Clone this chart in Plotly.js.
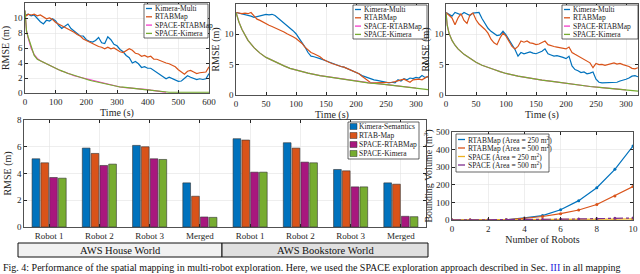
<!DOCTYPE html>
<html><head><meta charset="utf-8">
<script src="https://cdn.plot.ly/plotly-3.0.1.min.js"></script>
<style>html,body{margin:0;padding:0;background:#fff}#chart{width:640px;height:274px}</style>
</head><body><div id="chart"></div>
<script>
// ---------- DATA ----------
// Top-left (AWS House World, 0-600 s)
const t1 = [0,5,10,20,30,40,50,60,70,80,90,100,110,120,130,140,150,160,170,180,190,200,210,220,230,240,250,260,270,280,290,300,310,320,330,340,350,360,370,380,390,400,410,420,430,440,450,460,470,480,490,500,510,520,530,540,550,560,570,580,590,600];
const kimera1 = [10.5,10.4,10.5,10.3,10.4,9.9,9.5,9.2,9.7,9.6,9.9,9.6,9.0,8.6,8.9,9.2,8.6,8.3,8.0,7.6,7.6,7.1,6.9,6.8,7.0,7.4,6.7,6.6,7.5,7.1,6.5,6.3,5.8,5.5,5.0,4.7,4.0,4.2,3.9,3.4,3.5,3.3,3.3,3.0,2.8,2.4,2.2,1.9,2.1,1.9,1.7,1.55,1.6,1.9,2.3,2.1,2.0,1.8,1.9,1.8,1.9,2.6];
const rtab1 = [10.5,10.3,10.5,10.4,10.5,10.3,10.4,10.2,9.9,10.0,9.8,9.4,9.2,9.0,8.8,8.6,8.4,8.1,7.8,7.6,7.2,7.0,6.7,6.6,6.3,6.2,6.1,5.9,6.1,5.9,6.0,5.7,5.5,5.4,5.7,5.9,5.7,5.3,5.2,4.9,5.0,4.8,4.9,4.5,4.5,4.3,4.2,4.0,3.9,3.7,3.5,3.1,2.8,2.5,2.9,3.0,2.8,2.6,2.7,2.7,2.8,3.5];
const spaceRtab1 = [11.0,8.3,7.4,6.0,5.1,4.6,4.3,4.1,3.8,3.6,3.4,3.3,3.1,2.9,2.8,2.6,2.5,2.3,2.2,2.1,1.95,1.8,1.7,1.6,1.5,1.4,1.35,1.3,1.2,1.1,1.0,0.85,0.8,0.75,0.72,0.7,0.68,0.6,0.55,0.5,0.47,0.45,0.38,0.3,0.25,0.2,0.14,0.1,null,null,null,null,null,null,null,null,null,null,null,null,null,null];
const spaceKim1 = [11.0,8.2,7.5,6.1,5.0,4.5,4.3,4.0,3.8,3.6,3.4,3.3,3.1,2.95,2.75,2.6,2.5,2.35,2.2,2.05,1.9,1.8,1.7,1.6,1.5,1.45,1.35,1.25,1.2,1.1,1.0,0.88,0.8,0.78,0.72,0.7,0.66,0.6,0.56,0.5,0.46,0.42,0.36,0.3,0.24,0.18,0.13,0.1,0.1,0.1,0.1,0.1,0.1,0.1,0.1,0.1,0.1,0.1,0.1,0.1,0.1,0.1];

// Top-middle (AWS Bookstore, 0-320 s)
const t2 = [0,5,10,15,20,25,30,35,40,45,50,55,60,65,70,75,80,85,90,95,100,105,110,115,120,125,130,135,140,145,150,155,160,165,170,175,180,185,190,195,200,205,210,215,220,225,230,235,240,245,250,255,260,265,270,275,280,285,290,295,300,305,310,315,320];
const kimera2 = [13.6,13.5,13.4,13.3,13.2,13.0,12.8,12.9,13.1,13.2,13.3,13.2,13.3,13.1,12.7,12.3,11.9,11.5,11.0,10.6,10.1,9.4,8.7,7.9,7.0,6.4,6.3,6.2,6.0,5.8,5.6,5.4,5.2,5.0,4.9,4.7,4.6,4.4,4.2,4.0,3.8,3.5,3.2,3.0,2.8,2.6,2.5,2.4,2.3,2.1,2.0,2.0,2.1,2.0,2.5,2.3,2.7,2.5,2.8,2.7,2.9,2.8,3.2,2.9,3.0];
const rtab2 = [13.6,13.5,13.4,13.5,13.4,13.6,13.0,12.5,12.3,12.0,11.7,11.5,11.3,11.1,10.9,10.6,10.4,10.1,9.9,9.6,9.3,8.9,8.5,7.9,7.4,7.0,6.8,6.6,6.3,5.9,5.6,5.4,5.2,5.0,4.9,4.7,4.6,4.4,4.2,4.0,3.8,3.5,3.1,2.7,2.3,2.0,2.0,2.0,2.0,2.0,2.0,2.0,2.1,2.2,2.4,2.5,2.6,2.3,2.1,2.5,2.6,2.6,2.5,2.8,3.1];
const ts2 = [0,2,5,10,15,20,30,40,50,60,70,80,90,100,120,140,160,180,200,220,240,260,280,300,320];
const spaceRtab2 = [13.6,12.8,12.0,10.8,9.8,9.0,7.8,6.9,6.2,5.7,5.3,4.8,4.4,4.1,3.6,3.2,2.9,2.6,2.3,2.05,1.85,1.6,1.4,1.15,null];
const spaceKim2 = [13.6,12.8,12.0,10.8,9.8,9.0,7.8,6.9,6.2,5.7,5.3,4.8,4.4,4.1,3.6,3.2,2.9,2.6,2.3,2.0,1.85,1.6,1.4,1.15,0.9];

// Top-right (0-320 s)
const t3 = t2;
const kimera3 = [13.6,13.3,13.0,13.6,13.4,13.2,13.6,13.4,13.1,13.5,13.6,13.6,12.6,11.8,11.0,10.5,10.2,9.8,9.9,10.5,9.9,9.1,8.3,7.5,6.4,7.0,6.8,7.0,7.1,6.9,6.8,7.0,7.2,7.6,6.8,6.6,6.4,6.5,6.4,6.2,6.0,6.4,4.8,4.2,4.0,3.7,3.8,3.5,3.6,3.8,2.6,2.1,2.0,2.0,2.0,2.1,2.0,2.1,2.3,2.4,2.6,2.8,3.1,3.2,3.0];
const rtab3 = [13.6,13.2,12.7,11.6,12.7,13.4,12.3,11.8,13.2,13.5,12.4,11.7,11.3,10.8,10.2,9.2,8.6,8.3,9.4,10.2,9.7,8.9,8.0,7.6,8.0,8.9,8.7,8.9,8.6,8.5,8.3,8.4,8.6,8.9,8.3,8.1,8.0,7.9,7.8,7.7,7.6,7.9,7.0,6.7,6.4,6.2,5.9,5.6,5.3,4.5,5.2,5.0,5.05,4.9,5.0,5.1,5.3,5.1,5.2,5.0,4.9,4.7,4.4,4.3,4.5];
const ts3 = ts2;
const spaceRtab3 = [13.6,11.5,10.2,9.0,8.2,7.6,6.7,6.0,5.4,4.9,4.5,4.2,3.85,3.55,3.1,2.75,2.45,2.2,1.9,1.65,1.4,1.2,1.0,0.85,null];
const spaceKim3 = [13.6,11.5,10.2,9.0,8.2,7.6,6.7,6.0,5.4,4.9,4.5,4.2,3.85,3.55,3.1,2.75,2.45,2.2,1.9,1.65,1.4,1.2,1.0,0.85,0.65];

// Bottom-left bars
const barLabels = ["Robot 1","Robot 2","Robot 3","Merged","Robot 1","Robot 2","Robot 3","Merged"];
const barKimeraSem = [5.1,5.9,6.1,3.3,6.6,6.3,4.3,3.3];
const barRtabMap   = [4.8,5.5,6.0,2.3,6.5,5.9,4.2,3.2];
const barSpaceRtab = [3.7,4.6,5.1,0.75,4.1,4.85,3.0,0.8];
const barSpaceKim  = [3.65,4.7,5.05,0.72,4.1,4.8,3.0,0.77];
const worldLabels = ["AWS House World","AWS Bookstore World"];

// Bottom-right scaling
const robots = [0,1,2,3,4,5,6,7,8,9,10];
const rtabA250 = [0,0,0.2,2,12,25,58,110,183,288,420];
const rtabA500 = [0,0,0.1,1.5,10,20,36,57,88,137,190];
const spaceA250 = [0,0.1,0.3,0.7,1.2,1.8,2.5,3.3,4.2,5.2,6.3];
const spaceA500 = [0,0.2,0.6,1.3,2.2,3.3,4.6,6.0,7.6,9.4,11.4];

const lineNames = ["Kimera-Multi","RTABMap","SPACE-RTABMap","SPACE-Kimera"];
const barNames = ["Kimera-Semantics","RTAB-Map","SPACE-RTABMap","SPACE-Kimera"];
const scaleNames = ["RTABMap (Area = 250 m<sup>2</sup>)","RTABMap (Area = 500 m<sup>2</sup>)","SPACE (Area = 250 m<sup>2</sup>)","SPACE (Area = 500 m<sup>2</sup>)"];

// ---------- STYLE ----------
const C = {blue:"#0072BD", orange:"#D95319", pink:"#F23CC8", green:"#77AC30", purple:"#A8177E", yellow:"#EDB120", violet:"#7E2F8E"};
const lineColors = [C.blue, C.orange, C.pink, C.green];
const barColors = [C.blue, C.orange, C.purple, C.green];
const FONT = "Liberation Serif, Times New Roman, serif";
const px = x => x/640, py = y => 1 - y/274;

const traces = [];
function pushLines(xa, ya, xMain, xSpace, series){
  const xs=[xMain,xMain,xSpace,xSpace];
  series.forEach((y,i)=>traces.push({type:"scatter",mode:"lines",x:xs[i],y:y,xaxis:xa,yaxis:ya,
    line:{color:lineColors[i],width:1.2},showlegend:false,name:lineNames[i],connectgaps:false}));
}
pushLines("x","y",t1,t1,[kimera1,rtab1,spaceRtab1,spaceKim1]);
pushLines("x2","y2",t2,ts2,[kimera2,rtab2,spaceRtab2,spaceKim2]);
pushLines("x3","y3",t3,ts3,[kimera3,rtab3,spaceRtab3,spaceKim3]);

const xIdx = barLabels.map((_,i)=>i);
[barKimeraSem,barRtabMap,barSpaceRtab,barSpaceKim].forEach((v,i)=>traces.push({type:"bar",x:xIdx,y:v,
  xaxis:"x4",yaxis:"y4",name:barNames[i],showlegend:false,
  marker:{color:barColors[i],line:{color:"#333",width:0.6}}}));

const scaleSeries=[rtabA250,rtabA500,spaceA250,spaceA500];
const scaleCol=[C.blue,C.orange,C.yellow,C.violet];
const scaleSym=["circle","circle","triangle-up","circle"];
const scaleDash=["solid","solid","solid","dashdot"];
scaleSeries.forEach((v,i)=>traces.push({type:"scatter",mode:"lines+markers",x:robots,y:v,xaxis:"x5",yaxis:"y5",
  name:scaleNames[i],showlegend:false,line:{color:scaleCol[i],width:1.2,dash:scaleDash[i]},
  marker:{color:scaleCol[i],symbol:scaleSym[i],size:i==2?4:3}}));

// ---------- AXES ----------
function ax(o){
  return Object.assign({showline:true,linecolor:"#262626",linewidth:0.8,mirror:"ticks",ticks:"inside",ticklen:3,
    tickcolor:"#262626",showgrid:true,gridcolor:"#e3e3e3",gridwidth:0.6,zeroline:false,
    tickfont:{family:FONT,size:9,color:"#262626"},automargin:false},o);
}
function tt(text,st){return {text:text,font:{family:FONT,size:10,color:"#262626"},standoff:st};}

const layout = {
  width:640,height:274,margin:{l:0,r:0,t:0,b:0},paper_bgcolor:"#fff",plot_bgcolor:"#fff",
  font:{family:FONT,color:"#262626"},showlegend:false,
  barmode:"group",bargap:0.3,bargroupgap:0.12,
  xaxis: ax({domain:[px(25),px(209)],anchor:"y",range:[0,600],dtick:100,title:tt("Time (s)",1)}),
  yaxis: ax({domain:[py(93),py(3)],anchor:"x",range:[0,12],dtick:2,title:tt("RMSE (m)",2)}),
  xaxis2:ax({domain:[px(236),px(428)],anchor:"y2",range:[0,320],dtick:50,title:tt("Time (s)",1)}),
  yaxis2:ax({domain:[py(95),py(4)],anchor:"x2",range:[0,15],dtick:5,title:tt("RMSE (m)",2)}),
  xaxis3:ax({domain:[px(446),px(638)],anchor:"y3",range:[0,320],dtick:50,title:tt("Time (s)",1)}),
  yaxis3:ax({domain:[py(95),py(4)],anchor:"x3",range:[0,15],dtick:5,title:tt("RMSE (m)",2)}),
  xaxis4:ax({domain:[px(24),px(426)],anchor:"y4",range:[-0.5,7.5],tickmode:"array",tickvals:xIdx,ticktext:barLabels}),
  yaxis4:ax({domain:[py(227),py(120)],anchor:"x4",range:[0,8],dtick:2,title:tt("RMSE (m)",3)}),
  xaxis5:ax({domain:[px(452),px(633)],anchor:"y5",range:[0,10],dtick:2,title:tt("Number of Robots",1)}),
  yaxis5:ax({domain:[py(220),py(132)],anchor:"x5",range:[0,500],dtick:100,title:tt("Bounding Volume (m<sup>3</sup>)",1)}),
  shapes:[],annotations:[]
};

// ---------- CUSTOM LEGENDS ----------
function legend(box, names, colors, kind, rowY, textX, opts){
  opts=opts||{};
  layout.shapes.push({type:"rect",xref:"paper",yref:"paper",x0:px(box[0]),x1:px(box[1]),y0:py(box[3]),y1:py(box[2]),
    line:{color:"#262626",width:0.7},fillcolor:"#fff",layer:"above"});
  names.forEach((n,i)=>{
    const y=rowY[i];
    if(kind==="bar"){
      layout.shapes.push({type:"rect",xref:"paper",yref:"paper",x0:px(box[0]+2),x1:px(box[0]+9),y0:py(y+3),y1:py(y-3),
        fillcolor:colors[i],line:{color:"#333",width:0.5},layer:"above"});
    } else {
      layout.shapes.push({type:"line",xref:"paper",yref:"paper",x0:px(box[0]+2),x1:px(textX-2),y0:py(y),y1:py(y),
        line:{color:colors[i],width:1.3,dash:(opts.dash||[])[i]||"solid"},layer:"above"});
    }
    layout.annotations.push({xref:"paper",yref:"paper",x:px(textX),y:py(y),xanchor:"left",yanchor:"middle",showarrow:false,
      text:n,font:{family:FONT,size:opts.size||7.5,color:"#1a1a1a"},borderpad:0});
  });
}
legend([144,208,4,38],lineNames,lineColors,"line",[8.5,16.8,25.1,33.4],154);
legend([353,427,5,39],lineNames,lineColors,"line",[9.5,17.8,26.1,34.4],363);
legend([562,638,5,39],lineNames,lineColors,"line",[9.5,17.8,26.1,34.4],572);
legend([348,419,122,159],barNames,barColors,"bar",[126.5,135.5,144.5,153.5],358);
legend([456,549,134,172],scaleNames,scaleCol,"line",[139.5,148,156.5,165],467,{size:7.5,dash:["solid","solid","solid","dashdot"]});

// ---------- WORLD LABEL BOXES ----------
const boxes=[[18,222,"#f1f1f1"],[222,428,"#e0e0e0"]];
worldLabels.forEach((w,i)=>{
  const b=boxes[i];
  layout.shapes.push({type:"rect",xref:"paper",yref:"paper",x0:px(b[0]),x1:px(b[1]),y0:py(257),y1:py(243),
    fillcolor:b[2],line:{color:"#111",width:1}});
  layout.annotations.push({xref:"paper",yref:"paper",x:px((b[0]+b[1])/2),y:py(250),xanchor:"center",yanchor:"middle",
    showarrow:false,text:w,font:{family:FONT,size:10.5,color:"#111"}});
});

// ---------- CAPTION ----------
layout.annotations.push({xref:"paper",yref:"paper",x:px(1),y:py(267),xanchor:"left",yanchor:"middle",showarrow:false,
  text:'Fig. 4: Performance of the spatial mapping in multi-robot exploration. Here, we used the SPACE exploration approach described in Sec. <span style="color:#2222dd">III</span> in all mapping',
  font:{family:FONT,size:10,color:"#111"}});

Plotly.newPlot("chart",traces,layout,{displayModeBar:false,staticPlot:true});
</script>
</body></html>
